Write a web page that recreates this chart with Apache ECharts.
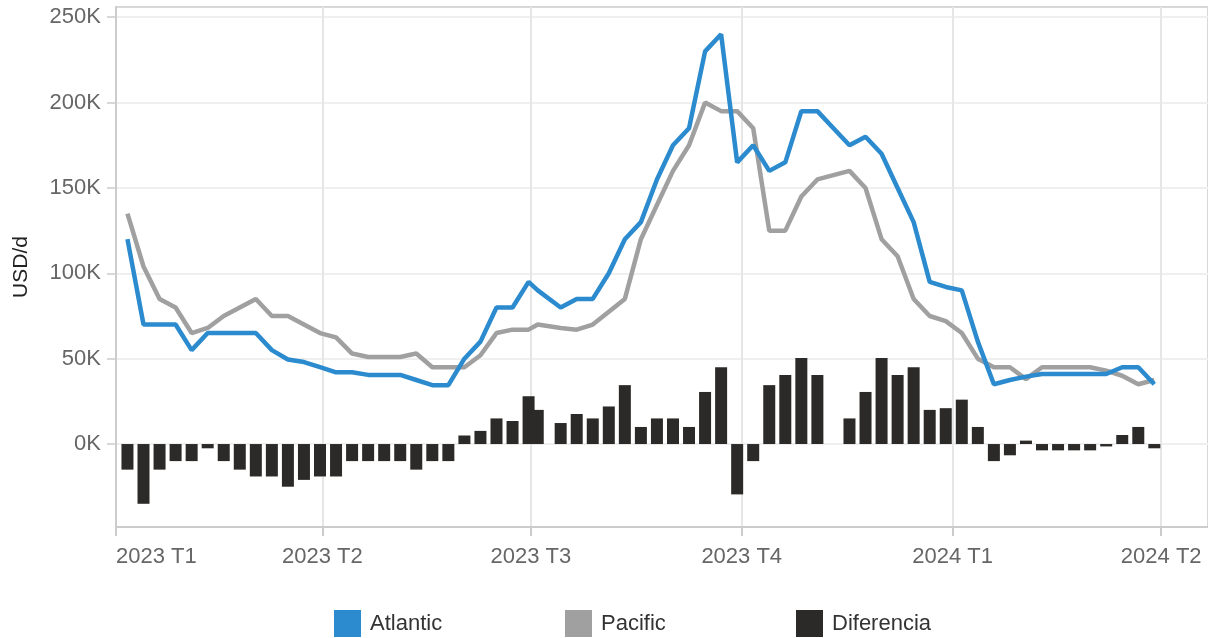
<!DOCTYPE html>
<html>
<head>
<meta charset="utf-8">
<script src="https://cdn.jsdelivr.net/npm/echarts@6/dist/echarts.min.js"></script>
<style>
html, body { margin: 0; padding: 0; background: #fff; }
#chart { width: 1208px; height: 638px; }
</style>
</head>
<body>
<div id="chart"></div>
<script>
// fechas semanales (viernes), con un punto extra a principios de julio
var fechas = [
    '2023-01-06','2023-01-13','2023-01-20','2023-01-27','2023-02-03','2023-02-10','2023-02-17','2023-02-24',
    '2023-03-03','2023-03-10','2023-03-17','2023-03-24','2023-03-31','2023-04-07','2023-04-14','2023-04-21',
    '2023-04-28','2023-05-05','2023-05-12','2023-05-19','2023-05-26','2023-06-02','2023-06-09','2023-06-16',
    '2023-06-23','2023-06-30','2023-07-04','2023-07-14','2023-07-21','2023-07-28','2023-08-04','2023-08-11',
    '2023-08-18','2023-08-25','2023-09-01','2023-09-08','2023-09-15','2023-09-22','2023-09-29','2023-10-06',
    '2023-10-13','2023-10-20','2023-10-27','2023-11-03','2023-11-10','2023-11-17','2023-11-24','2023-12-01',
    '2023-12-08','2023-12-15','2023-12-22','2023-12-29','2024-01-05','2024-01-12','2024-01-19','2024-01-26',
    '2024-02-02','2024-02-09','2024-02-16','2024-02-23','2024-03-01','2024-03-08','2024-03-15','2024-03-22',
    '2024-03-29'
];

// miles de USD/d
var atlantic = [
    120, 70, 70, 70, 55, 65, 65, 65,
    65, 55, 49.5, 48, 45, 42, 42, 40.5,
    40.5, 40.5, 37.5, 34.5, 34.5, 50, 60, 80,
    80, 95, 90, 80, 85, 85, 100, 120,
    130, 155, 175, 185, 230, 240, 165, 175,
    160, 165, 195, 195, 185, 175, 180, 170,
    150, 130, 95, 92, 90, 60, 35, 37.5,
    39.5, 41, 41, 41, 41, 41, 45, 45,
    35
];

var pacific = [
    135, 104, 85, 80, 65, 68, 75, 80,
    85, 75, 75, 70, 65, 62.5, 53, 51,
    51, 51, 53, 45, 45, 45, 52, 65,
    67, 67, 70, 68, 67, 70, 77.5, 85,
    120, 140, 160, 175, 200, 195, 195, 185,
    125, 125, 145, 155, 157.5, 160, 150, 120,
    110, 85, 75, 72, 65, 50, 45, 45,
    38, 45, 45, 45, 45, 43, 40, 35,
    37.5
];

var diferencia = [
    -15, -35, -15, -10, -10, -2.5, -10, -15,
    -19, -19, -25, -21, -19, -19, -10, -10,
    -10, -10, -15, -10, -10, 5, 7.7, 15,
    13.5, 28, 20, 12.3, 17.6, 15, 22, 34.5,
    10, 15, 15, 10, 30.5, 45, -29.5, -10,
    34.5, 40.4, 50.4, 40.4, null, 15, 30.5, 50.4,
    40.4, 45, 20, 21, 26, 10, -10, -6.6,
    2, -3.7, -3.7, -3.7, -3.7, -1.4, 5.3, 10,
    -2.5
];

var trimestres = ['2023-01-01', '2023-04-01', '2023-07-01', '2023-10-01', '2024-01-01', '2024-04-01'];
var yTicks = [0, 50, 100, 150, 200, 250];
var nombres = ['Atlantic', 'Pacific', 'Diferencia'];

function ts(s) { return +echarts.time.parse(s); }

function pares(valores) {
    return fechas.map(function (f, i) {
        return [ts(f), valores[i] == null ? null : valores[i] * 1000];
    });
}

var ticksX = trimestres.map(ts);
var ticksY = yTicks.map(function (v) { return v * 1000; });

// una leyenda por serie, en casillas de ancho fijo
var leyendas = nombres.map(function (n, i) {
    return {
        left: 334 + i * 231,
        top: 610,
        padding: 0,
        itemWidth: 27,
        itemHeight: 27,
        icon: 'rect',
        textStyle: { fontSize: 22, color: '#333', padding: [4, 0, 0, 4] },
        data: [n]
    };
});

var myChart = echarts.init(document.getElementById('chart'));

var option = {
    animation: false,
    textStyle: { fontFamily: '"Liberation Sans", Arial, sans-serif' },
    grid: {
        left: 116,
        right: -2,
        top: 7,
        bottom: 111,
        show: true,
        borderColor: '#cccccc',
        borderWidth: 1.5
    },
    legend: leyendas,
    xAxis: {
        type: 'value',
        min: ts('2023-01-01'),
        max: ts('2024-04-21 10:00'),
        axisLine: { onZero: false, lineStyle: { color: '#cccccc', width: 2 } },
        axisTick: { show: true, length: 9, customValues: ticksX, lineStyle: { color: '#cccccc', width: 2 } },
        axisLabel: {
            customValues: ticksX,
            fontSize: 22,
            color: '#666',
            margin: 19,
            alignMinLabel: 'left',
            formatter: function (v) {
                var d = new Date(v);
                return d.getFullYear() + ' T' + (Math.floor(d.getMonth() / 3) + 1);
            }
        },
        splitLine: { show: true, lineStyle: { color: '#e6e6e6', width: 2 } }
    },
    yAxis: {
        type: 'value',
        min: -48600,
        max: 256000,
        name: 'USD/d',
        nameLocation: 'middle',
        nameGap: 84,
        nameTextStyle: { fontSize: 21, color: '#222' },
        axisLine: { show: true, lineStyle: { color: '#cccccc', width: 2 } },
        axisTick: { show: true, length: 9, customValues: ticksY, lineStyle: { color: '#cccccc', width: 1.5 } },
        axisLabel: {
            customValues: ticksY,
            fontSize: 22,
            color: '#666',
            margin: 15,
            formatter: function (v) { return (v / 1000) + 'K'; }
        },
        splitLine: { show: true, lineStyle: { color: '#efefef', width: 2 } }
    },
    series: [
        {
            name: 'Atlantic',
            type: 'line',
            data: pares(atlantic),
            showSymbol: false,
            color: '#2b8bce',
            lineStyle: { width: 4.5, color: '#2b8bce' },
            z: 4
        },
        {
            name: 'Pacific',
            type: 'line',
            data: pares(pacific),
            showSymbol: false,
            color: '#a0a0a0',
            lineStyle: { width: 4.5, color: '#a0a0a0' },
            z: 3
        },
        {
            name: 'Diferencia',
            type: 'bar',
            data: pares(diferencia),
            barWidth: 12,
            color: '#2b2a28',
            itemStyle: { color: '#2b2a28' },
            z: 2
        }
    ]
};

myChart.setOption(option);
</script>
</body>
</html>
